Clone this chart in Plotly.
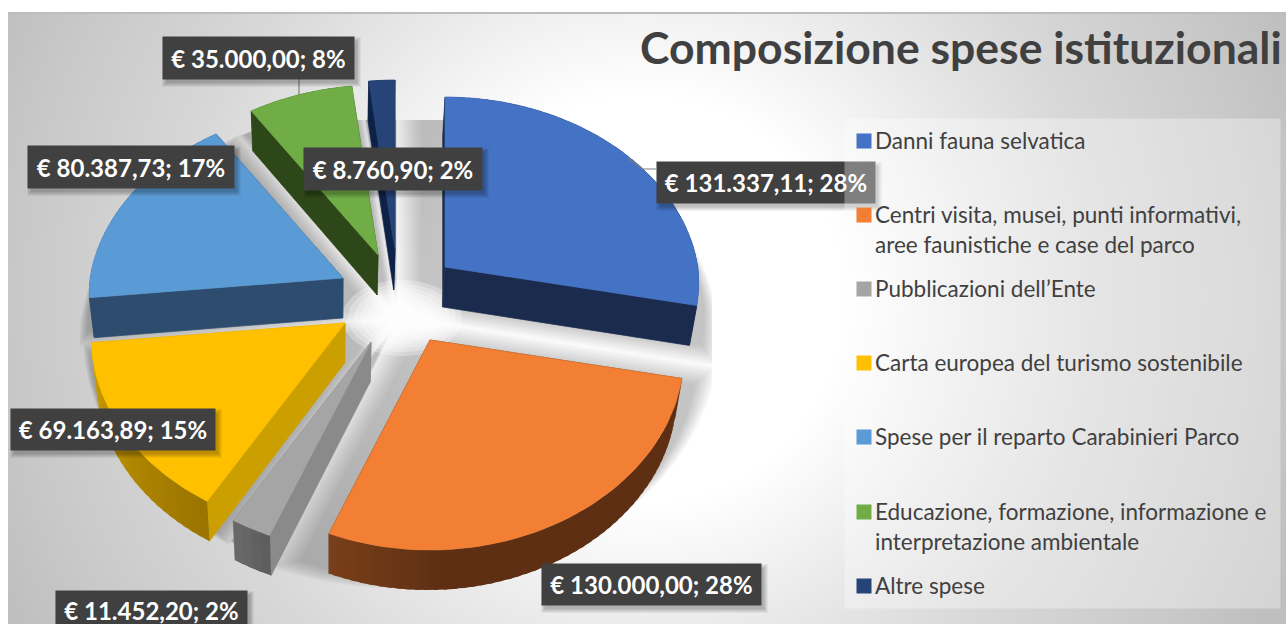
import base64
import numpy as np
import plotly.graph_objects as go

# ---- data ----
categories = [
    "Danni fauna selvatica",
    "Centri visita, musei, punti informativi, aree faunistiche e case del parco",
    "Pubblicazioni dell’Ente",
    "Carta europea del turismo sostenibile",
    "Spese per il reparto Carabinieri Parco",
    "Educazione, formazione, informazione e interpretazione ambientale",
    "Altre spese",
]
values = [131337.11, 130000.00, 11452.20, 69163.89, 80387.73, 35000.00, 8760.90]
title_text = "Composizione spese istituzionali"

# ---- styles ----
top_colors = ["#4472C4", "#F27F33", "#A5A5A5", "#FFC000", "#5B9BD5", "#70AD47", "#264478"]
radial_colors = ["#1A2B4E", "#5E2F13", "#8A8A8A", "#CC9F00", "#2E4D6E", "#2E4718", "#0E2247"]
arc_from = ["#1A2B4E", "#5E2F13", "#5C5C5C", "#997300", "#2E4D6E", "#2E4718", "#0E2247"]
arc_to = ["#1A2B4E", "#7A3F1A", "#6A6A6A", "#CC9F00", "#2E4D6E", "#2E4718", "#0E2247"]
# pie-explosion origin of every slice (pixel axis)
apex = [(445, 267), (430, 340), (371, 342), (345, 323), (343, 278), (378, 255), (395, 250)]
draw_order = [6, 5, 4, 0, 3, 2, 1]
depth = 40


def it_number(v):
    s = f"{v:,.2f}"
    return s.replace(",", "§").replace(".", ",").replace("§", ".")


def rim(theta):
    c = np.cos(theta)
    rx = 253 - 30 * np.maximum(c, 0) + 20 * np.maximum(-c, 0)
    ry = 190 - 20 * c
    return rx * np.sin(theta), -ry * c


def lower(x, y):
    return 330 + (x - 330) * 0.98, y + depth


def mix(a, b, t):
    ca = [int(a[i:i + 2], 16) for i in (1, 3, 5)]
    cb = [int(b[i:i + 2], 16) for i in (1, 3, 5)]
    return "rgb(%d,%d,%d)" % tuple(round(p + (q - p) * t) for p, q in zip(ca, cb))


total = sum(values)
edges = np.concatenate([[0], np.cumsum(values)]) / total * 2 * np.pi

fig = go.Figure()


def poly(xs, ys, color, name=None, line=0.7):
    fig.add_trace(go.Scatter(
        x=list(xs), y=list(ys), mode="lines", fill="toself", fillcolor=color,
        line=dict(color=color, width=line), showlegend=False,
        hoverinfo="text" if name else "skip", text=name, name=name or "",
    ))


# soft drop shadow of the slices
outlines = []
for i in range(len(values)):
    th = np.linspace(edges[i], edges[i + 1], 40)
    dx, dy = rim(th)
    xs = np.concatenate([[apex[i][0]], apex[i][0] + dx])
    ys = np.concatenate([[apex[i][1]], apex[i][1] + dy])
    lx, ly = lower(xs, ys)
    outlines.append((lx, ly))

for scale in np.linspace(1.30, 1.14, 12):
    sx, sy = [], []
    for lx, ly in outlines:
        mx, my = lx.mean(), ly.mean()
        gx = mx + (lx - mx) * scale
        gy = my - 18 + (ly - my) * scale
        sx += list(np.clip(gx, 80, 712)) + [None]
        sy += list(np.clip(gy, 120, 597)) + [None]
    fig.add_trace(go.Scatter(
        x=sx, y=sy, mode="lines", fill="toself", fillcolor="rgba(0,0,0,0.021)",
        line=dict(width=0), showlegend=False, hoverinfo="skip",
    ))

# light spot where the exploded slices leave the middle uncovered
spot = np.linspace(0, 2 * np.pi, 60)
for k in np.linspace(1.0, 0.2, 9):
    poly(402 + 60 * k * np.cos(spot), 318 + 38 * k * np.sin(spot), "rgba(255,255,255,0.3)", line=0)

# extruded slices, back to front
for i in draw_order:
    ax, ay = apex[i]
    a0, a1 = edges[i], edges[i + 1]
    label = f"{categories[i]}: € {it_number(values[i])}"
    for a in (a0, a1):
        dx, dy = rim(np.array(a))
        x1, y1 = ax + dx, ay + dy
        bx0, by0 = lower(ax, ay)
        bx1, by1 = lower(x1, y1)
        poly([ax, x1, bx1, bx0, ax], [ay, y1, by1, by0, ay], radial_colors[i])
    nseg = max(2, int((a1 - a0) / np.radians(2)))
    grid = np.linspace(a0, a1, nseg + 1)
    for k in range(nseg):
        th = np.linspace(grid[k], min(grid[k + 1] + np.radians(1), a1), 4)
        dx, dy = rim(th)
        tx, ty = ax + dx, ay + dy
        bx, by = lower(tx, ty)
        t = (k + 0.5) / nseg
        if i == 1:  # the rust wall only lightens close to its left end
            t = max(0.0, (t - 0.75) / 0.25)
        poly(np.concatenate([tx, bx[::-1], tx[:1]]), np.concatenate([ty, by[::-1], ty[:1]]),
             mix(arc_from[i], arc_to[i], t), line=0)
    th = np.linspace(a0, a1, 60)
    dx, dy = rim(th)
    poly(np.concatenate([[ax], ax + dx, [ax]]), np.concatenate([[ay], ay + dy, [ay]]),
         top_colors[i], name=label)

# ---- page furniture ----
W, H = 1286, 624
svg = f"""<svg xmlns='http://www.w3.org/2000/svg' width='{W}' height='{H}'>
<defs><radialGradient id='g' gradientUnits='userSpaceOnUse' cx='640' cy='300' r='700'>
<stop offset='0' stop-color='#ffffff'/><stop offset='0.29' stop-color='#ffffff'/>
<stop offset='0.49' stop-color='#e9e9e9'/><stop offset='0.66' stop-color='#d8d8d8'/>
<stop offset='0.89' stop-color='#c8c8c8'/><stop offset='1' stop-color='#bfbfbf'/>
</radialGradient></defs>
<rect x='8' y='13' width='{W}' height='{H}' fill='url(#g)'/></svg>"""
bg = "data:image/svg+xml;base64," + base64.b64encode(svg.encode()).decode()

LABEL_BOXES = [  # x0, y0, x1, y1 of each data label
    (656, 161, 874, 202), (541, 563, 760, 604), (55, 590, 246, 624), (10, 408, 214, 449),
    (27, 145, 233, 187), (162, 36, 353, 78), (303, 147, 481, 189),
]
annotations, shapes = [], []
shapes.append(dict(type="line", xref="x", yref="y", x0=8, x1=W, y0=13, y1=13,
                   line=dict(color="#BDBDBD", width=2)))
shapes.append(dict(type="path", xref="x", yref="y", path="M299,78 L299,95",
                   line=dict(color="#7F7F7F", width=1.2)))
shapes.append(dict(type="path", xref="x", yref="y", path="M628,158 L643,169 L656,169",
                   line=dict(color="#7F7F7F", width=1.2)))

for i, (x0, y0, x1, y1) in enumerate(LABEL_BOXES):
    for grow, alpha in ((4, 0.05), (3, 0.05), (2, 0.06), (1, 0.06), (0, 0.06)):
        shapes.append(dict(type="rect", xref="x", yref="y", x0=x0 + 4 - grow, x1=x1 + 4 + grow,
                           y0=y0 + 5 - grow, y1=y1 + 5 + grow,
                           fillcolor=f"rgba(0,0,0,{alpha})", line=dict(width=0), layer="above"))
    pct = round(values[i] / total * 100)
    annotations.append(dict(
        xref="x", yref="y", x=x0, y=y0, xanchor="left", yanchor="top", showarrow=False,
        width=x1 - x0, height=y1 - y0, borderpad=0, align="center",
        valign="bottom" if y1 - y0 < 40 else "middle",
        bgcolor="#404040", text=f"<b>€ {it_number(values[i])}; {pct}%</b>",
        font=dict(family="Lato", size=24, color="white"),
    ))

# translucent legend panel sits above the labels
annotations.append(dict(
    xref="x", yref="y", x=844, y=118, xanchor="left", yanchor="top", showarrow=False,
    width=435, height=489, borderpad=0, bgcolor="rgba(255,255,255,0.33)", text=" ",
))

legend_lines = [
    ["Danni fauna selvatica"],
    ["Centri visita, musei, punti informativi,", "aree faunistiche e case del parco"],
    ["Pubblicazioni dell’Ente"],
    ["Carta europea del turismo sostenibile"],
    ["Spese per il reparto Carabinieri Parco"],
    ["Educazione, formazione, informazione e", "interpretazione ambientale"],
    ["Altre spese"],
]
legend_y = [141, 215, 289, 363, 437, 512, 586]
for i, lines in enumerate(legend_lines):
    annotations.append(dict(
        xref="x", yref="y", x=856, y=legend_y[i], xanchor="left", yanchor="middle", showarrow=False,
        width=14, height=14, borderpad=0, bgcolor=top_colors[i], text=" ",
    ))
    for j, line in enumerate(lines):
        annotations.append(dict(
            xref="x", yref="y", x=874, y=legend_y[i] - 1 + 30 * j, xanchor="left", yanchor="middle",
            showarrow=False, text=line, borderpad=0,
            font=dict(family="Lato", size=22.5, color="#404040"),
        ))

annotations.append(dict(
    xref="x", yref="y", x=639, y=46, xanchor="left", yanchor="middle", showarrow=False,
    text=f"<b>{title_text}</b>", borderpad=0, font=dict(family="Lato", size=44.5, color="#404040"),
))

fig.update_layout(
    width=W, height=H, margin=dict(l=0, r=0, t=0, b=0),
    paper_bgcolor="white", plot_bgcolor="rgba(0,0,0,0)", showlegend=False,
    xaxis=dict(range=[0, W], visible=False, fixedrange=True),
    yaxis=dict(range=[H, 0], visible=False, fixedrange=True),
    images=[dict(source=bg, xref="paper", yref="paper", x=0, y=1, sizex=1, sizey=1,
                 xanchor="left", yanchor="top", sizing="stretch", layer="below")],
    shapes=shapes, annotations=annotations,
)
fig.write_html(
    "out.html",
    config={"displayModeBar": False},
    post_script="document.body.style.margin='0';document.documentElement.style.overflow='hidden';",
)
